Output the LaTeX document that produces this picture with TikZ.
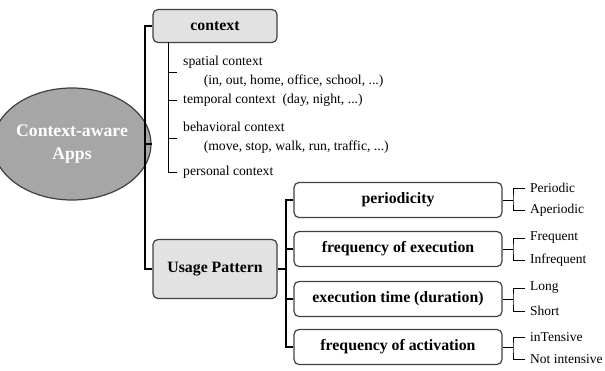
\documentclass[tikz,border=0pt]{standalone}
\usepackage{fontspec}
\setmainfont{Liberation Serif}
\usetikzlibrary{shapes.geometric}
\definecolor{appgray}{HTML}{A6A6A6}
\definecolor{boxgray}{HTML}{E2E2E2}
\definecolor{edgegray}{HTML}{404040}
\tikzset{
	mainbox/.style={draw=edgegray, line width=1.2pt, rounded corners=5pt, fill=boxgray, align=center,
		font=\fontsize{15.8}{18}\selectfont\bfseries},
	subbox/.style={draw=edgegray, line width=1.2pt, rounded corners=5pt, fill=white,
		minimum width=208pt, minimum height=35pt, font=\fontsize{15.8}{18}\selectfont\bfseries},
	item/.style={anchor=west, inner xsep=6pt, inner ysep=1pt, align=left, font=\fontsize{13.7}{19}\selectfont},
	leaf/.style={anchor=west, inner xsep=5pt, inner ysep=1pt, font=\fontsize{13.5}{15}\selectfont},
	link/.style={draw=black, line width=1.3pt}
}
\begin{document}
\begin{tikzpicture}[x=1pt, y=-1pt]
	\useasboundingbox (0,0) rectangle (605,370);
	% root
	\node (app) at (72,144) [ellipse, draw=edgegray, line width=1.2pt, fill=appgray, minimum width=131pt, minimum height=112pt,
		inner sep=0pt, align=center, text=white, font=\fontsize{17.7}{23}\selectfont\bfseries] {Context-aware\\Apps};
	\node (ctx) at (215,26) [mainbox, minimum width=124pt, minimum height=33pt] {context};
	\node (up) at (215,269) [mainbox, minimum width=124pt, minimum height=59pt] {Usage Pattern};
	\coordinate (trunk) at (145,144);
	\draw[link] (app.east) -- (trunk);
	\draw[link] (ctx.west) -| (trunk) |- (up.west);
	% context items
	\node (spatial) at (177,72) [item] {spatial context\\\hspace{1.5em}(in, out, home, office, school, ...)};
	\node (temporal) at (177,100) [item] {temporal context~~(day, night, ...)};
	\node (behav) at (177,138) [item] {behavioral context\\\hspace{1.5em}(move, stop, walk, run, traffic, ...)};
	\node (personal) at (177,172) [item] {personal context};
	\coordinate (ctxstem) at (168,42);
	\draw[link, line width=1pt] (ctxstem) |- (personal.west);
	\draw[link, line width=1pt] (spatial.west) -- (spatial.west -| ctxstem);
	\draw[link, line width=1pt] (temporal.west) -- (temporal.west -| ctxstem);
	\draw[link, line width=1pt] (behav.west) -- (behav.west -| ctxstem);
	% usage pattern boxes
	\node (per) at (398,200) [subbox] {periodicity};
	\node (fexe) at (398,249) [subbox] {frequency of execution};
	\node (etime) at (398,299) [subbox] {execution time (duration)};
	\node (fact) at (398,347) [subbox] {frequency of activation};
	\coordinate (uptrunk) at (286,269);
	\draw[link] (up.east) -- (uptrunk);
	\draw[link] (per.west) -| (uptrunk) |- (fact.west);
	\draw[link] (fexe.west) -- (fexe.west -| uptrunk);
	\draw[link] (etime.west) -- (etime.west -| uptrunk);
	% leaves
	\node (periodic) at (525,188) [leaf] {Periodic};
	\node (aperiodic) at (525,210) [leaf] {Aperiodic};
	\node (frequent) at (525,238) [leaf] {Frequent};
	\node (infrequent) at (525,260) [leaf] {Infrequent};
	\node (long) at (525,288) [leaf] {Long};
	\node (short) at (525,311) [leaf] {Short};
	\node (intensive) at (525,337) [leaf] {inTensive};
	\node (notint) at (525,359) [leaf] {Not intensive};
	\coordinate (b1) at (513,200);
	\coordinate (b2) at (513,249);
	\coordinate (b3) at (513,299);
	\coordinate (b4) at (513,347);
	\draw[link, line width=1pt] (per.east) -- (b1);
	\draw[link, line width=1pt] (periodic.west) -| (b1) |- (aperiodic.west);
	\draw[link, line width=1pt] (fexe.east) -- (b2);
	\draw[link, line width=1pt] (frequent.west) -| (b2) |- (infrequent.west);
	\draw[link, line width=1pt] (etime.east) -- (b3);
	\draw[link, line width=1pt] (long.west) -| (b3) |- (short.west);
	\draw[link, line width=1pt] (fact.east) -- (b4);
	\draw[link, line width=1pt] (intensive.west) -| (b4) |- (notint.west);
\end{tikzpicture}
\end{document}
